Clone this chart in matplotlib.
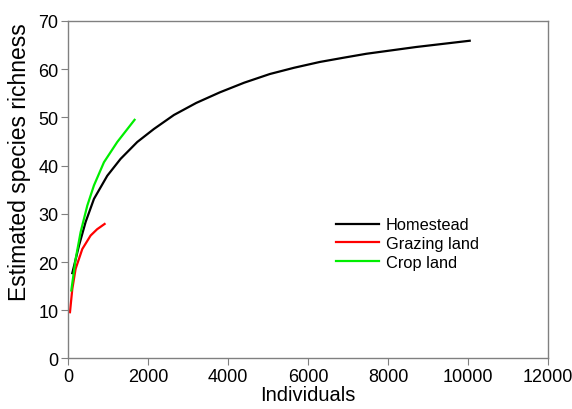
import matplotlib
matplotlib.use("Agg")
import matplotlib.pyplot as plt

plt.rcParams['font.family'] = ['Liberation Sans', 'DejaVu Sans']

home_x = [100, 267, 433, 642, 975, 1308, 1725, 2142, 2642, 3200, 3792, 4400, 5042, 5650, 6292, 6900, 7458, 8700, 10042]
home_y = [17.7, 23.4, 28.3, 33.1, 37.9, 41.4, 44.9, 47.6, 50.5, 53.0, 55.2, 57.2, 59.0, 60.3, 61.5, 62.4, 63.2, 64.6, 65.9]
graz_x = [42, 100, 183, 350, 558, 720, 908]
graz_y = [9.6, 14.4, 18.6, 22.7, 25.5, 26.8, 27.9]
crop_x = [75, 183, 308, 475, 642, 892, 1225, 1658]
crop_y = [14.1, 20.6, 26.2, 31.7, 35.9, 40.7, 44.9, 49.5]

xticks = [0, 2000, 4000, 6000, 8000, 10000, 12000]
yticks = [0, 10, 20, 30, 40, 50, 60, 70]

fig = plt.figure(figsize=(5.72, 4.10), dpi=100)
ax = fig.add_axes([0.1194, 0.1232, 0.8386, 0.8232])
ax.plot(home_x, home_y, color='black', lw=1.6, label='Homestead')
ax.plot(graz_x, graz_y, color='#ff0000', lw=1.6, label='Grazing land')
ax.plot(crop_x, crop_y, color='#00ee00', lw=1.6, label='Crop land')

ax.set_xlim(0, 12000)
ax.set_ylim(0, 70)
ax.set_xticks(xticks)
ax.set_yticks(yticks)
for s in ax.spines.values():
    s.set_color('#808080')
    s.set_linewidth(1.0)
ax.tick_params(direction='out', length=5, color='#808080', labelsize=13,
               labelcolor='black', pad=2)
ax.set_xlabel('Individuals', fontsize=14.5, labelpad=0)
ax.set_ylabel('Estimated species richness', fontsize=16.5)
ax.yaxis.set_label_coords(-0.078, 0.585)

ax.legend(loc='center left', bbox_to_anchor=(0.558, 0.341), frameon=False,
          fontsize=11.8, handlelength=2.6, handletextpad=0.45, labelspacing=0.22,
          borderaxespad=0, borderpad=0)

fig.savefig('out.png', dpi=100)
